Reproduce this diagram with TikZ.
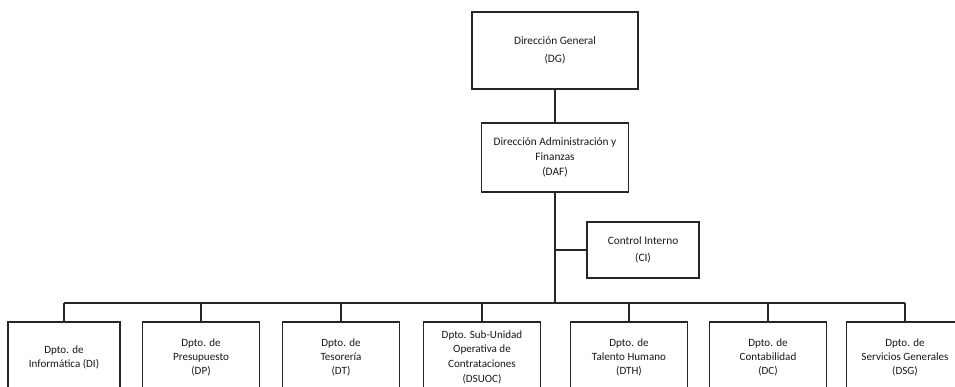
\documentclass[tikz,border=0pt]{standalone}
\usepackage{fontspec}
\setmainfont{Carlito}
\begin{document}
\begin{tikzpicture}[x=0.75pt,y=-0.75pt,
  box/.style={draw=black!85, line width=0.9pt, align=center, inner sep=0pt,
    font=\fontsize{8.5}{11.2}\selectfont, text=black!90},
  dept/.style={box, minimum width=88pt, minimum height=52.5pt,
    font=\fontsize{8.3}{10.5}\selectfont},
  conn/.style={draw=black!85, line width=0.9pt}]
\useasboundingbox (0,0) rectangle (955,386);
\clip (0,0) rectangle (955,386);
\fill[white] (0,0) rectangle (955,386);
\node[box, minimum width=124.5pt, minimum height=57.75pt, font=\fontsize{8.5}{14}\selectfont] (dg) at (555,50.5) {Dirección General\\(DG)};
\node[box, minimum width=110.25pt, minimum height=51.75pt] (daf) at (555,157.5) {Dirección Administración y\\Finanzas\\(DAF)};
\node[box, minimum width=84pt, minimum height=42pt, font=\fontsize{8.5}{13}\selectfont] (ci) at (643,250) {Control Interno\\(CI)};
\node[dept, minimum width=84pt] (di) at (64,357) {Dpto. de\\Informática (DI)};
\node[dept] (dp) at (201,357) {Dpto. de\\Presupuesto\\(DP)};
\node[dept] (dt) at (341,357) {Dpto. de\\Tesorería\\(DT)};
\node[dept, font=\fontsize{8.3}{11}\selectfont] (dsuoc) at (482,357) {Dpto. Sub-Unidad\\Operativa de\\Contrataciones\\(DSUOC)};
\node[dept] (dth) at (629,357) {Dpto. de\\Talento Humano\\(DTH)};
\node[dept] (dc) at (768,357) {Dpto. de\\Contabilidad\\(DC)};
\node[dept] (dsg) at (905,357) {Dpto. de\\Servicios Generales\\(DSG)};
\coordinate (barL) at (64,303);
\coordinate (barR) at (905,303);
\draw[conn] (dg.south) -- (daf.north);
\draw[conn] (daf.south) -- (daf.south |- barL);
\draw[conn] (ci.west -| daf.south) -- (ci.west);
\draw[conn] (barL) -- (barR);
\foreach \b in {di,dp,dt,dsuoc,dth,dc,dsg}{
  \draw[conn] (\b.north |- barL) -- (\b.north);
}
\end{tikzpicture}
\end{document}
